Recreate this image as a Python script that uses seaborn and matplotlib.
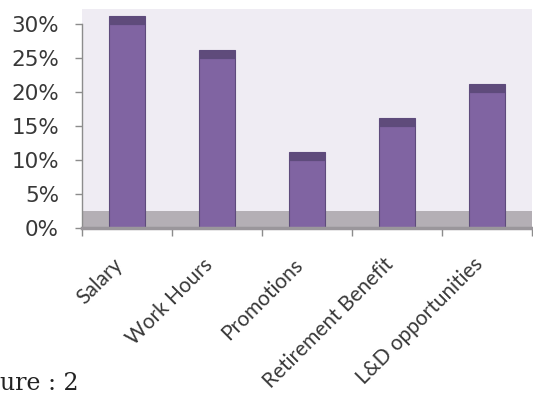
import matplotlib
matplotlib.use("Agg")
import matplotlib.pyplot as plt
import numpy as np
import pandas as pd
import seaborn as sns

# Share of respondents naming each factor
categories = ["Salary", "Work Hours", "Promotions", "Retirement Benefit", "L&D opportunities"]
shares = [30, 25, 10, 15, 20]
y_ticks = [0, 5, 10, 15, 20, 25, 30]
y_tick_labels = [f"{v}%" for v in y_ticks]

sns.set_theme(style="white")
plt.rcParams["font.family"] = ["DejaVu Sans"]

W, H = 533, 412
fig = plt.figure(figsize=(W / 100, H / 100), dpi=100)
ax = fig.add_axes([82 / W, (H - 228) / H, (532 - 82) / W, (228 - 9) / H])
ax.set_facecolor("#EFECF3")

df = pd.DataFrame({"factor": categories, "share": shares})

# grey floor of the chart
ax.axhspan(0, 2.5, color="#B4AFB5", lw=0, zorder=0.5)

bar_w = 0.41
sns.barplot(data=df, x="factor", y="share", order=categories,
            color="#8064A2", saturation=1, width=bar_w,
            edgecolor="#5E4B7C", linewidth=0.8, ax=ax, zorder=2)

# darker top face on each column
pos = np.arange(len(categories))
ax.bar(pos, [1.2] * len(shares), bottom=shares, width=bar_w,
       color="#5F4B7B", edgecolor="#5E4B7C", linewidth=0.8, zorder=3)

ax.set_xlim(-0.5, len(categories) - 0.5)
ax.set_ylim(0, 32.2)
ax.set_xlabel("")
ax.set_ylabel("")

ax.set_yticks(y_ticks)
ax.set_yticklabels(y_tick_labels)
ax.tick_params(axis="y", left=True, length=5, width=1.0, color="#8C8C8C",
               pad=11.5, labelsize=15.5, labelcolor="#383838")

ax.set_xticks(pos)
ax.set_xticklabels(categories, family="Lato", fontsize=15, color="#383838")
for lab in ax.get_xticklabels():
    lab.set_rotation(45)
    lab.set_ha("right")
ax.set_xticks(np.arange(-0.5, len(categories), 1), minor=True)
ax.tick_params(axis="x", which="major", bottom=True, length=0, pad=19)
ax.tick_params(axis="x", which="minor", bottom=True, length=6, width=1.0,
               color="#8C8C8C")

for side in ("top", "right"):
    ax.spines[side].set_visible(False)
ax.spines["left"].set_bounds(0, 30)
ax.spines["left"].set_color("#8C8C8C")
ax.spines["left"].set_linewidth(1.0)
ax.spines["bottom"].set_color("#9A969B")
ax.spines["bottom"].set_linewidth(2.5)

# caption fragment at the lower left
fig.text(0.5 / W, (H - 390) / H, "ure : 2", ha="left", va="baseline",
         family="DejaVu Serif", fontsize=17, color="#222222")

fig.savefig("out.png", dpi=100)
